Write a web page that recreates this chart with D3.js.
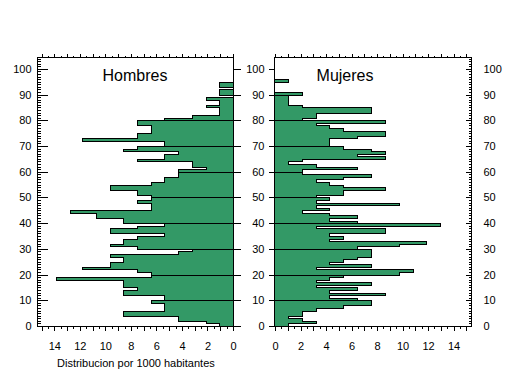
<!DOCTYPE html>
<html><head><meta charset="utf-8">
<script src="https://cdn.jsdelivr.net/npm/d3@7"></script>
<style>
body{margin:0;background:#fff;}
svg{display:block;font-family:"Liberation Sans",Arial,sans-serif;}
</style></head>
<body><svg id="c" width="509" height="376"></svg>
<script>
const hombres = [1.1,2.1,4.3,4.3,8.6,8.6,5.4,5.4,5.4,6.4,
 5.4,5.4,8.6,8.6,7.5,8.6,8.6,8.6,13.9,6.4,
 6.4,7.5,11.8,9.6,9.6,8.6,8.6,9.6,4.3,3.2,
 7.5,9.6,8.6,8.6,7.5,5.4,9.6,9.6,7.5,5.4,
 8.6,8.6,10.7,10.7,12.8,6.4,6.4,6.4,7.5,6.4,
 6.4,7.5,7.5,9.6,9.6,6.4,5.4,5.4,4.3,4.3,
 4.3,2.1,3.2,3.2,7.5,5.4,5.4,4.3,8.6,7.5,
 5.4,5.4,11.8,7.5,7.5,6.4,6.4,6.4,7.5,7.5,
 5.4,3.2,1.1,1.1,1.1,2.1,1.1,1.1,2.1,0,
 1.1,1.1,0,1.1,1.1,0,0,0,0,0,0];
const mujeres = [1.1,3.3,2.2,1.1,2.2,2.2,3.3,5.4,7.6,7.6,
 6.5,4.3,8.7,4.3,6.5,3.3,7.6,3.3,4.3,5.4,
 9.8,10.9,3.3,7.6,4.3,5.4,6.5,7.6,7.6,7.6,
 6.5,9.8,11.9,4.3,5.4,4.3,8.7,8.7,3.3,13.0,
 6.5,4.3,6.5,4.3,2.2,4.3,3.3,9.8,3.3,4.3,
 3.3,5.4,5.4,8.7,5.4,4.3,3.3,5.4,7.6,2.2,
 2.2,6.5,3.3,1.1,2.2,8.7,6.5,8.7,7.6,5.4,
 4.3,4.3,4.3,6.5,8.7,8.7,5.4,4.3,3.3,8.7,
 2.2,3.3,3.3,7.6,7.6,2.2,1.1,1.1,1.1,1.1,
 2.2,0,0,0,0,1.1,0,0,0,0,0];
const ageTicks = [0,10,20,30,40,50,60,70,80,90,100];
const xTickLabels = [0,2,4,6,8,10,12,14];
const panelTitles = ["Hombres","Mujeres"];
const xTitle = "Distribucion por 1000 habitantes";

const svg = d3.select("#c");
const GREEN = "#339966";
const yTop = 57, yBot = 326;
const y = d3.scaleLinear().domain([0,100]).range([326,68.9]);
// left panel: value 0 at pixel column 233 (line), bars fill up to x=233
const xL = d3.scaleLinear().domain([0,14]).range([233,54.3]);
const xR = d3.scaleLinear().domain([0,14]).range([275,453.5]);
const LPX = [37, 233], RPX = [274, 471]; // frame pixel columns
xL.domain([0, xL.invert(LPX[0])]).range([233, LPX[0]]);
xR.domain([0, xR.invert(RPX[1]+1)]).range([275, RPX[1]+1]);
const sn = v => Math.round(v)+0.5;
const ages = d3.range(hombres.length);

function drawPanel(data, x, side){
  const g = svg.append("g");
  const x0 = x(0);
  let pts = [[x0, y(0)]];
  ages.forEach(a=>{ pts.push([x(data[a]), y(a)]); pts.push([x(data[a]), y(a+1)]); });
  pts.push([x0, y(ages.length)]);
  const fillPts = pts.map(p=>[Math.round(p[0]), Math.round(p[1])]);
  g.append("path").attr("d", d3.line()(fillPts)+"Z").attr("fill",GREEN).attr("stroke","none").attr("shape-rendering","crispEdges");
  // outline (outer edge): snap so the stroke sits on the bar end pixel
  const off = side==="L" ? 0.5 : -0.5;
  const outPts = pts.filter(p=>Math.round(p[0])!==Math.round(x0)).map(p=>[Math.round(p[0])+off, Math.round(p[1])+0.5]);
  // build per-band outline segments
  const segs = [];
  for(let a=0;a<ages.length;a++){
    const v = data[a]; if(v<=0 && (a===0 || data[a-1]<=0)) continue;
  }
  g.append("path").attr("d", d3.line()(pts.map(p=>[Math.round(p[0])+off, Math.round(p[1])+0.5])))
   .attr("fill","none").attr("stroke","#000").attr("stroke-width",1).attr("shape-rendering","crispEdges");
  g.selectAll("line.dec").data(ageTicks.filter(a=>a>0 && a<100)).join("line")
    .attr("x1", Math.round(x0)+off).attr("x2", a=>Math.round(x(data[a]||0))+off)
    .attr("y1", a=>sn(y(a))).attr("y2", a=>sn(y(a)))
    .attr("stroke","#000").attr("shape-rendering","crispEdges");
}
drawPanel(hombres, xL, "L");
drawPanel(mujeres, xR, "R");

function styleAxis(g){ g.select(".domain").remove(); g.selectAll("line").attr("stroke","#000").attr("shape-rendering","crispEdges"); g.selectAll("text").attr("font-size",11).attr("font-family","Liberation Sans, Arial, sans-serif").attr("fill","#000"); }

// frames
[LPX,RPX].forEach(([a,b])=>{
  svg.append("rect").attr("x",a+0.5).attr("y",yTop+0.5).attr("width",b-a).attr("height",yBot-yTop)
   .attr("fill","none").attr("stroke","#000").attr("shape-rendering","crispEdges");
});

const minorAges = d3.range(0,105,1);
// Left panel y axes
svg.append("g").attr("transform",`translate(${LPX[0]+0.5},0)`).call(d3.axisLeft(y).tickValues(minorAges).tickSize(-3).tickFormat("")).call(styleAxis);
svg.append("g").attr("transform",`translate(${LPX[0]+0.5},0)`).call(d3.axisLeft(y).tickValues(ageTicks).tickSizeInner(-10).tickSizeOuter(0).tickPadding(6)).call(styleAxis);
svg.append("g").attr("transform",`translate(${LPX[1]+0.5},0)`).call(d3.axisRight(y).tickValues(ageTicks).tickSize(7).tickFormat("")).call(styleAxis);
// Right panel y axes
svg.append("g").attr("transform",`translate(${RPX[0]+0.5},0)`).call(d3.axisLeft(y).tickValues(ageTicks).tickSize(6).tickPadding(4)).call(styleAxis);
svg.append("g").attr("transform",`translate(${RPX[1]+0.5},0)`).call(d3.axisRight(y).tickValues(minorAges).tickSize(-3).tickFormat("")).call(styleAxis);
svg.append("g").attr("transform",`translate(${RPX[1]+0.5},0)`).call(d3.axisRight(y).tickValues(ageTicks).tickSizeInner(-6).tickPadding(12)).call(styleAxis);

function xAxes(x){
  const halfs = d3.range(0, x.domain()[1], 0.5);
  const ints = d3.range(0, x.domain()[1], 1);
  svg.append("g").attr("transform",`translate(0,${yTop+0.5})`).call(d3.axisTop(x).tickValues(halfs).tickSize(2).tickFormat("")).call(styleAxis);
  svg.append("g").attr("transform",`translate(0,${yTop+0.5})`).call(d3.axisTop(x).tickValues(ints).tickSize(4).tickFormat("")).call(styleAxis);
  svg.append("g").attr("transform",`translate(0,${yBot+0.5})`).call(d3.axisBottom(x).tickValues(halfs).tickSize(2).tickFormat("")).call(styleAxis);
  svg.append("g").attr("transform",`translate(0,${yBot+0.5})`).call(d3.axisBottom(x).tickValues(ints).tickSize(4).tickFormat("")).call(styleAxis);
  svg.append("g").attr("transform",`translate(0,${yBot+0.5})`).call(d3.axisBottom(x).tickValues(xTickLabels).tickSize(0).tickPadding(16).tickFormat(d3.format("d"))).call(styleAxis);
}
xAxes(xL); xAxes(xR);

svg.append("text").attr("x",135).attr("y",81).attr("text-anchor","middle").attr("font-size",16).text(panelTitles[0]);
svg.append("text").attr("x",345).attr("y",81).attr("text-anchor","middle").attr("font-size",16).text(panelTitles[1]);
svg.append("text").attr("x",57).attr("y",367).attr("font-size",11).text(xTitle);
</script></body></html>
